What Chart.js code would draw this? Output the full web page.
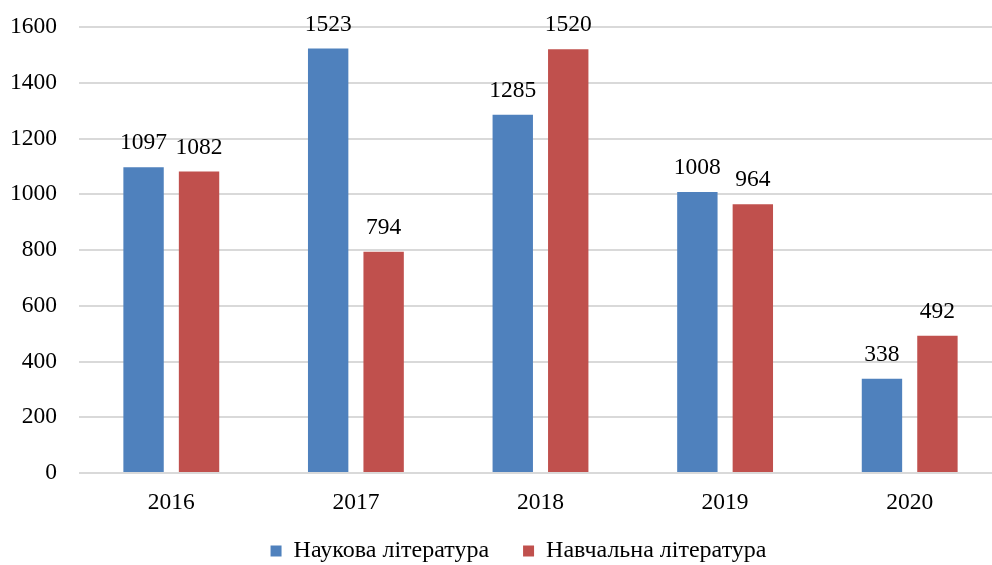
<!DOCTYPE html>
<html>
<head>
<meta charset="utf-8">
<script src="https://cdn.jsdelivr.net/npm/chart.js@4/dist/chart.umd.min.js"></script>
<style>
html,body{margin:0;padding:0;background:#fff;}
#wrap{width:992px;height:565px;}
</style>
</head>
<body>
<div id="wrap"><canvas id="c" width="992" height="565"></canvas></div>
<script>
const categories = ['2016', '2017', '2018', '2019', '2020'];
const seriesNames = ['Наукова література', 'Навчальна література'];
const scientific = [1097, 1523, 1285, 1008, 338];
const educational = [1082, 794, 1520, 964, 492];
const yTicks = [0, 200, 400, 600, 800, 1000, 1200, 1400, 1600];

const FONT = "'Liberation Serif', 'Times New Roman', serif";
const NUM_SIZE = 23.5;

const labelPlugin = {
  id: 'barLabels',
  afterInit(chart) {
    const lg = chart.legend;
    if (lg) {
      const orig = lg.fit.bind(lg);
      lg.fit = function () { orig(); this.height = 60; };
    }
  },
  afterLayout(chart) {
    const lg = chart.legend;
    if (lg) { lg.left -= 17; lg.right -= 17; }
    const x = chart.scales.x;
    if (x) {
      x.right = x.left + 923;
      x.width = x.right - x.left;
      x.configure();
    }
  },
  afterDatasetsDraw(chart) {
    const ctx = chart.ctx;
    ctx.save();
    ctx.font = NUM_SIZE + 'px ' + FONT;
    ctx.fillStyle = '#000';
    ctx.textAlign = 'center';
    ctx.textBaseline = 'middle';
    chart.data.datasets.forEach((ds, i) => {
      const meta = chart.getDatasetMeta(i);
      meta.data.forEach((bar, j) => {
        ctx.fillText(String(ds.data[j]), bar.x, bar.y - 24);
      });
    });
    ctx.restore();
  }
};

new Chart(document.getElementById('c'), {
  type: 'bar',
  data: {
    labels: categories,
    datasets: [
      { label: seriesNames[0], data: scientific, backgroundColor: '#4F81BD', categoryPercentage: 0.601, barPercentage: 0.728 },
      { label: seriesNames[1], data: educational, backgroundColor: '#C0504D', categoryPercentage: 0.601, barPercentage: 0.728 }
    ]
  },
  options: {
    responsive: false,
    animation: false,
    devicePixelRatio: 1,
    layout: { padding: { top: 27, right: 0, left: 0, bottom: 0 } },
    plugins: {
      tooltip: { enabled: false },
      legend: {
        position: 'bottom',
        fullSize: false,
        labels: {
          font: { family: FONT, size: 24 },
          color: '#000',
          boxWidth: 11,
          boxHeight: 11,
          padding: 34,
          useBorderRadius: false
        }
      }
    },
    scales: {
      x: {
        grid: { display: false, drawTicks: false },
        border: { display: false },
        ticks: { font: { family: FONT, size: NUM_SIZE }, color: '#000', padding: 16 },
        afterFit(scale) {
          scale.height = 32; scale.paddingLeft = 0; scale.paddingRight = 0;
          scale._computeLabelArea = () => undefined;
        }
      },
      y: {
        min: 0, max: 1600,
        afterBuildTicks(scale) { scale.ticks = yTicks.map(v => ({ value: v })); },
        grid: { color: '#D9D9D9', lineWidth: 2, drawTicks: false },
        border: { display: false },
        ticks: { font: { family: FONT, size: NUM_SIZE }, color: '#000', padding: 22, callback: v => String(v) },
        afterFit(scale) { scale.width = 79; scale.paddingTop = 0; scale.paddingBottom = 0; }
      }
    }
  },
  plugins: [labelPlugin]
});
</script>
</body>
</html>
